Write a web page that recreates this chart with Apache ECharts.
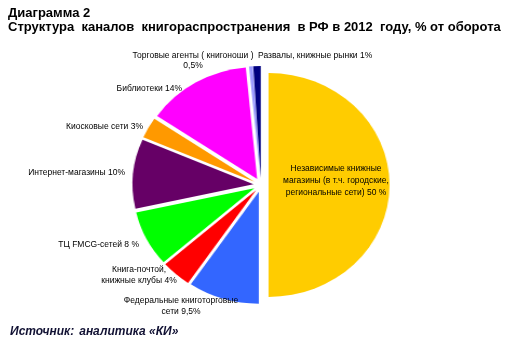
<!DOCTYPE html>
<html>
<head>
<meta charset="utf-8">
<script src="https://cdn.jsdelivr.net/npm/echarts@6/dist/echarts.min.js"></script>
<style>
  html, body { margin: 0; padding: 0; background: #fff; }
  #wrap { position: relative; width: 528px; height: 351px; overflow: hidden; }
  #back, #pie, #front { position: absolute; left: 0; top: 0; width: 528px; height: 351px; }
  /* the original pie is a little wider than tall */
  #pie { transform: scaleX(1.08); transform-origin: 261px 185px; }
</style>
</head>
<body>
<div id="wrap">
  <div id="back"></div>
  <div id="pie"></div>
  <div id="front"></div>
</div>
<script>
const names = [
  'Независимые книжные\nмагазины (в т.ч. городские,\nрегиональные сети)',
  'Федеральные книготорговые\nсети',
  'Книга-почтой,\nкнижные клубы',
  'ТЦ FMCG-сетей',
  'Интернет-магазины',
  'Киосковые сети',
  'Библиотеки',
  'Торговые агенты ( книгоноши )',
  'Развалы, книжные рынки'
];
const shares = [50, 9.5, 4, 8, 10, 3, 14, 0.5, 1];
const shareText = ['50 %', '9,5%', '4%', '8 %', '10%', '3%', '14%', '0,5%', '1%'];
const colors = ['#FFCC00', '#3366FF', '#FF0000', '#00FF00', '#660066', '#FF9900', '#FF00FF', '#9999FF', '#000080'];

// where each label sits on the page: [x, y, align]
const labelSpots = [
  [336, 181, 'center'],
  [181, 306, 'center'],
  [139, 275, 'center'],
  [139, 245, 'right'],
  [125, 173, 'right'],
  [143, 127, 'right'],
  [182, 89, 'right'],
  [193, 61, 'center'],
  [258, 56, 'left']
];

const font = "'Liberation Sans', Arial, sans-serif";

const back = echarts.init(document.getElementById('back'));
back.setOption({
  animation: false,
  title: [
    {
      text: 'Диаграмма 2\nСтруктура  каналов  книгораспространения  в РФ в 2012  году, % от оборота',
      left: 3, top: 1,
      textStyle: { fontFamily: font, fontSize: 13, fontWeight: 'bold', color: '#000', lineHeight: 14 }
    },
    {
      text: '{b|Источник:} {i|аналитика «КИ»}',
      left: 5, top: 318,
      textStyle: {
        rich: {
          b: { fontFamily: font, fontSize: 12, fontWeight: 'bold', fontStyle: 'italic', color: '#111133' },
          i: { fontFamily: font, fontSize: 12, fontStyle: 'italic', color: '#111133' }
        }
      }
    }
  ]
});

const pie = echarts.init(document.getElementById('pie'));
pie.setOption({
  animation: false,
  series: [{
    type: 'pie',
    center: [261, 185],
    radius: 112,
    startAngle: 90,
    clockwise: true,
    selectedMode: 'multiple',
    selectedOffset: 7,
    emphasis: { disabled: true },
    itemStyle: { borderWidth: 0 },
    label: { show: false },
    labelLine: { show: false },
    data: shares.map((v, i) => ({
      value: v,
      name: names[i],
      selected: true,
      itemStyle: { color: colors[i] }
    }))
  }]
});

// labels on top, unscaled
const front = echarts.init(document.getElementById('front'));
front.setOption({
  animation: false,
  graphic: labelSpots.map((s, i) => ({
    type: 'text',
    x: s[0], y: s[1],
    silent: true,
    style: {
      text: names[i] + (i === 7 ? '\n' : ' ') + shareText[i],
      fill: '#000',
      font: '8.5px ' + font,
      align: s[2],
      verticalAlign: 'middle',
      lineHeight: i === 7 ? 10 : (i === 0 ? 12 : 11)
    }
  }))
});
</script>
</body>
</html>
